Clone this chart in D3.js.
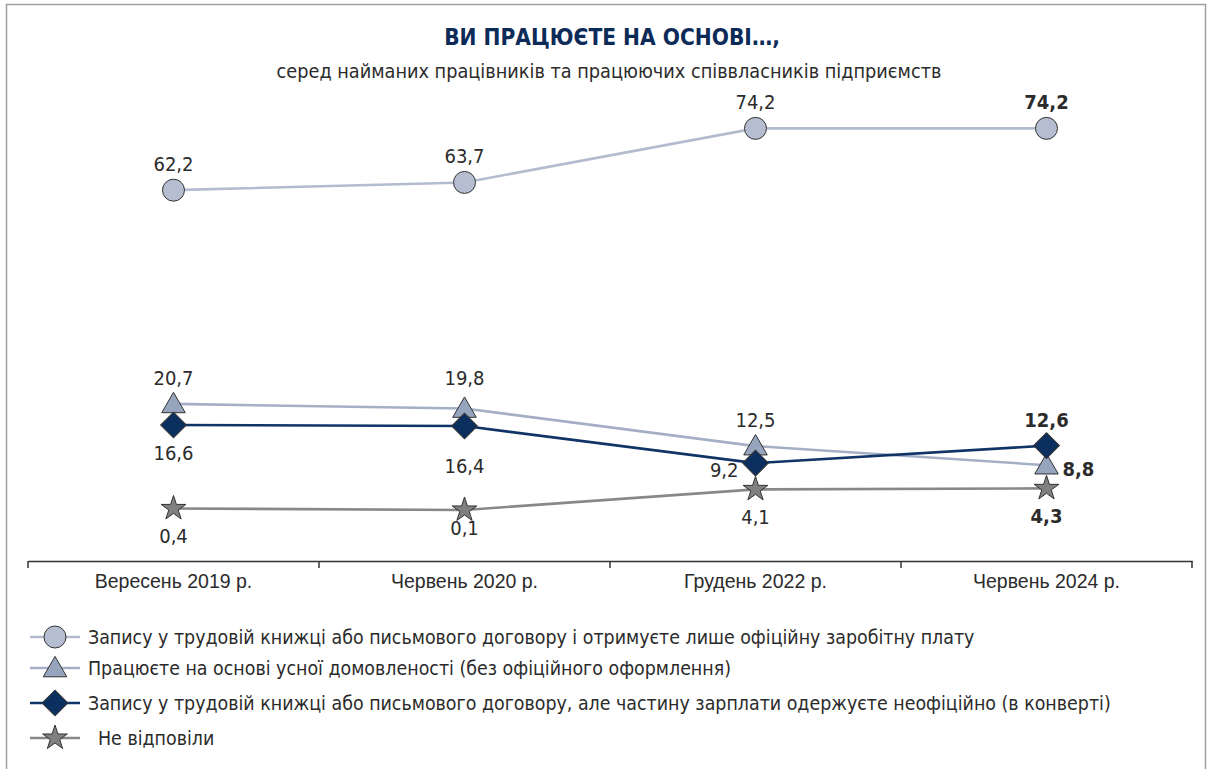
<!DOCTYPE html>
<html lang="uk">
<head>
    <meta charset="UTF-8">
    <title>Ви працюєте на основі…</title>
    <script src="https://d3js.org/d3.v7.min.js"></script>
    <style>
        body {
            margin: 0;
            padding: 0;
            background: #fff;
            font-family: "Liberation Sans Narrow", "DejaVu Sans Condensed", Roboto, sans-serif;
        }
        svg text { fill: #2b2b2b; }
    </style>
</head>
<body>
    <svg id="chart" width="1210" height="769"></svg>

    <script>
        // Data
        const categories = ["Вересень 2019 р.", "Червень 2020 р.", "Грудень 2022 р.", "Червень 2024 р."];
        const seriesNames = [
            "Запису у трудовій книжці або письмового договору і отримуєте лише офіційну заробітну плату",
            "Працюєте на основі усної домовленості (без офіційного оформлення)",
            "Запису у трудовій книжці або письмового договору, але частину зарплати одержуєте неофіційно (в конверті)",
            "Не відповіли"
        ];
        const officialOnly = [62.2, 63.7, 74.2, 74.2];
        const verbalAgreement = [20.7, 19.8, 12.5, 8.8];
        const envelopeSalary = [16.6, 16.4, 9.2, 12.6];
        const noAnswer = [0.4, 0.1, 4.1, 4.3];

        // label placement per point: a/A = above (near/far), b/B/n = below (normal/far/near), l = left, r = right
        const labelPlaces = [
            ["a", "a", "a", "a"],
            ["a", "A", "a", "r"],
            ["b", "B", "l", "a"],
            ["b", "n", "b", "b"]
        ];

        const styles = [
            { line: "#b3bbce", fill: "#b5bdd0", symbol: d3.symbolCircle, size: 380, rotate: 0 },
            { line: "#a4afc6", fill: "#97a4be", symbol: d3.symbolTriangle, size: 240, rotate: 0 },
            { line: "#0f3465", fill: "#0b2f5f", symbol: d3.symbolSquare, size: 330, rotate: 45 },
            { line: "#888888", fill: "#808080", symbol: d3.symbolStar, size: 190, rotate: 0 }
        ];

        const allSeries = [officialOnly, verbalAgreement, envelopeSalary, noAnswer];

        const svg = d3.select("#chart");

        // frame
        svg.append("rect")
            .attr("x", 6.5).attr("y", 4.5)
            .attr("width", 1199).attr("height", 780)
            .attr("fill", "none")
            .attr("stroke", "#a0a0a0")
            .attr("stroke-width", 1.5);

        // Title
        svg.append("text")
            .attr("x", 612).attr("y", 45)
            .attr("text-anchor", "middle")
            .style("font-size", "22.5px")
            .style("font-weight", "bold")
            .style("fill", "#0d2b58")
            .text("ВИ ПРАЦЮЄТЕ НА ОСНОВІ…,");

        svg.append("text")
            .attr("x", 609).attr("y", 78)
            .attr("text-anchor", "middle")
            .style("font-size", "19.7px")
            .text("серед найманих працівників та працюючих співвласників підприємств");

        // Scales
        const x = d3.scaleBand()
            .domain(categories)
            .range([28, 1192]);

        const y = d3.scaleLinear()
            .domain([0, 80])
            .range([510.5, 98.5]);

        const cx = d => x(d) + x.bandwidth() / 2;

        // Axis
        const axis = svg.append("g")
            .attr("transform", "translate(0,561)")
            .call(d3.axisBottom(x).tickSize(0).tickPadding(13));
        axis.select(".domain").attr("stroke", "#333").attr("stroke-width", 1.5);
        axis.selectAll("text")
            .style("font-size", "19.5px")
            .style("font-family", "inherit")
            .attr("fill", "#2b2b2b");

        // band boundary ticks
        const bounds = categories.map(c => x(c)).concat([x.range()[1]]);
        axis.selectAll(".bound")
            .data(bounds)
            .enter().append("line")
            .attr("x1", d => d).attr("x2", d => d)
            .attr("y1", 0).attr("y2", 7)
            .attr("stroke", "#333")
            .attr("stroke-width", 1.5);

        const line = d3.line()
            .x((d, i) => cx(categories[i]))
            .y(d => y(d));

        // Lines and markers, drawn so the navy series stays on top
        const drawOrder = [3, 0, 1, 2];
        drawOrder.forEach(s => {
            svg.append("path")
                .datum(allSeries[s])
                .attr("fill", "none")
                .attr("stroke", styles[s].line)
                .attr("stroke-width", 2.6)
                .attr("d", line);
        });

        const symbolPath = (s) => d3.symbol().type(styles[s].symbol).size(styles[s].size)();

        drawOrder.forEach(s => {
            svg.selectAll(".m" + s)
                .data(allSeries[s])
                .enter().append("path")
                .attr("d", symbolPath(s))
                .attr("transform", (d, i) => {
                    const dy = s === 1 ? 2 : 0;
                    return `translate(${cx(categories[i])},${y(d) + dy}) rotate(${styles[s].rotate})`;
                })
                .attr("fill", styles[s].fill)
                .attr("stroke", "#333")
                .attr("stroke-width", 1);
        });

        // Labels
        const fmt = v => d3.format(".1f")(v).replace(".", ",");
        allSeries.forEach((vals, s) => {
            svg.selectAll(".l" + s)
                .data(vals)
                .enter().append("text")
                .each(function (d, i) {
                    const place = labelPlaces[s][i];
                    let px = cx(categories[i]);
                    let py = y(d);
                    let anchor = "middle";
                    if (place === "a") py -= 19;
                    if (place === "A") py -= 24;
                    if (place === "b") py += 35;
                    if (place === "B") py += 47;
                    if (place === "n") py += 25;
                    if (place === "l") { px -= 17; py += 14; anchor = "end"; }
                    if (place === "r") { px += 16; py += 11; anchor = "start"; }
                    d3.select(this)
                        .attr("x", px).attr("y", py)
                        .attr("text-anchor", anchor)
                        .style("font-size", "20px")
                        .style("font-weight", i === 3 ? "bold" : "normal")
                        .text(fmt(d));
                });
        });

        // Legend
        const legendY = [637, 668, 703, 738];
        const legend = svg.append("g");
        seriesNames.forEach((name, s) => {
            const g = legend.append("g")
                .attr("transform", `translate(0,${legendY[s]})`);
            g.append("line")
                .attr("x1", 30).attr("x2", 80)
                .attr("stroke", styles[s].line)
                .attr("stroke-width", 2.6);
            g.append("path")
                .attr("d", symbolPath(s))
                .attr("transform", `translate(55,${s === 1 ? 2 : 0}) rotate(${styles[s].rotate})`)
                .attr("fill", styles[s].fill)
                .attr("stroke", "#333")
                .attr("stroke-width", 1);
            g.append("text")
                .attr("x", s === 3 ? 98 : 88)
                .attr("y", 7)
                .style("font-size", "19.4px")
                .text(name);
        });
    </script>
</body>
</html>
